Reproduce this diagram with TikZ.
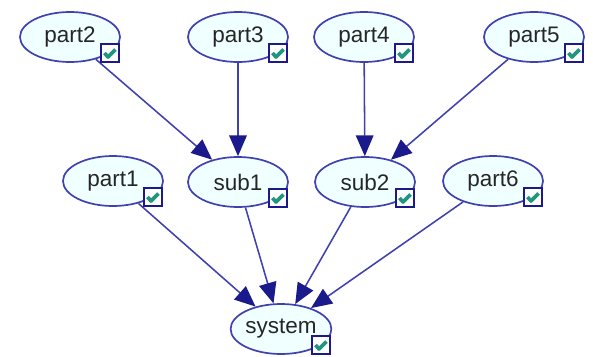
\documentclass[tikz,border=0pt]{standalone}
\usepackage{fontspec}
\setmainfont{Liberation Sans}
\usetikzlibrary{shapes.geometric,arrows.meta}
\definecolor{nodeblue}{RGB}{64,64,176}
\definecolor{headblue}{RGB}{26,26,140}
\definecolor{nodefill}{RGB}{240,255,255}
\definecolor{tickgreen}{RGB}{32,150,128}
\begin{document}
\begin{tikzpicture}[x=0.025cm,y=-0.025cm,
  var/.style={ellipse,draw=nodeblue,line width=1.2pt,fill=nodefill,minimum width=2.5cm,minimum height=1.25cm,inner sep=0pt,text=black!85,font=\fontsize{16}{19}\selectfont},
  chkbox/.style={draw=headblue,line width=1.4pt,fill=white,minimum size=0.47cm,inner sep=0pt},
  tick/.style={draw=tickgreen,line width=2.6pt,line join=round},
  link/.style={draw=nodeblue,line width=1.1pt,-{Triangle[length=0.52cm,width=0.44cm,color=headblue]}}]
\useasboundingbox (0,0) rectangle (593,356);
\node[var] (part2) at (70,37) {part2};
\node[var] (part3) at (238,37) {part3};
\node[var] (part4) at (364,37) {part4};
\node[var] (part5) at (534,37) {part5};
\node[var] (part1) at (113,181) {part1};
\node[var] (sub1) at (238,182) {sub1};
\node[var] (sub2) at (365,182) {sub2};
\node[var] (part6) at (493,181) {part6};
\node[var] (system) at (281,329) {system};
\draw[link] (part2) -- (sub1);
\draw[link] (part3) -- (sub1);
\draw[link] (part4) -- (sub2);
\draw[link] (part5) -- (sub2);
\draw[link] (part1) -- (system);
\draw[link] (sub1) -- (system);
\draw[link] (sub2) -- (system);
\draw[link] (part6) -- (system);
\foreach \n in {part1,part2,part3,part4,part5,part6,sub1,sub2,system}{
  \node[chkbox] (\n-chk) at ([shift={(40,16)}]\n.center) {};
  \draw[tick] ([shift={(-5.5,0)}]\n-chk.center) -- ++(3.5,4) -- ++(7.5,-7.5);
}
\end{tikzpicture}
\end{document}
